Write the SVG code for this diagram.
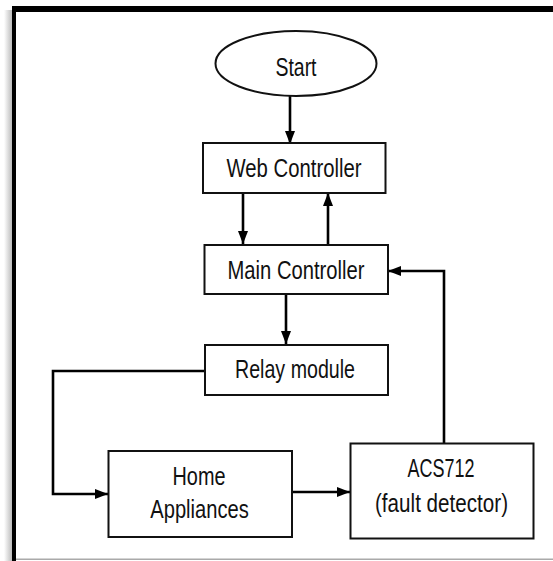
<svg xmlns="http://www.w3.org/2000/svg" width="553" height="561" viewBox="0 0 553 561">
<defs>
<style>
.box{fill:#fff;stroke:#111;stroke-width:2}
.lbl{font-family:"Liberation Sans",Arial,sans-serif;font-size:25.5px;fill:#111;text-anchor:middle}
.ln{fill:none;stroke:#000;stroke-width:2.6;stroke-linejoin:miter}
</style>
<marker id="ah" markerWidth="13" markerHeight="10" refX="13" refY="5" orient="auto" markerUnits="userSpaceOnUse">
<path d="M0,0 L13,5 L0,10 z" fill="#000"/>
</marker>
<linearGradient id="sh" x1="0" y1="0" x2="1" y2="0">
<stop offset="0" stop-color="#fff"/>
<stop offset="1" stop-color="#bbb"/>
</linearGradient>
</defs>
<rect width="553" height="561" fill="#fff"/>
<g id="frame">
<rect x="4" y="10" width="8" height="551" fill="url(#sh)"/>
<rect x="16" y="558.5" width="537" height="1.5" fill="#aaa"/>
<rect x="12" y="6" width="541" height="6" fill="#000"/>
<rect x="12" y="6" width="4" height="555" fill="#000"/>
</g>
<g id="connectors">
<path class="ln" d="M290,96 L290,144" marker-end="url(#ah)"/>
<path class="ln" d="M243,193 L243,244" marker-end="url(#ah)"/>
<path class="ln" d="M328,245 L328,193" marker-end="url(#ah)"/>
<path class="ln" d="M286,294 L286,344" marker-end="url(#ah)"/>
<path class="ln" d="M205,371 L53,371 L53,494 L108,494" marker-end="url(#ah)"/>
<path class="ln" d="M292,492 L350,492" marker-end="url(#ah)"/>
<path class="ln" d="M444,443 L444,271 L388,271" marker-end="url(#ah)"/>
</g>
<g id="start">
<ellipse class="box" cx="296" cy="63.5" rx="80.5" ry="32.5"/>
<text class="lbl" x="296" y="76" textLength="41" lengthAdjust="spacingAndGlyphs">Start</text>
</g>
<g id="web-controller">
<rect class="box" x="203" y="143" width="182.5" height="50"/>
<text class="lbl" x="294" y="177" textLength="135" lengthAdjust="spacingAndGlyphs">Web Controller</text>
</g>
<g id="main-controller">
<rect class="box" x="204.5" y="245" width="183.5" height="49"/>
<text class="lbl" x="296" y="279" textLength="137" lengthAdjust="spacingAndGlyphs">Main Controller</text>
</g>
<g id="relay-module">
<rect class="box" x="205" y="345" width="183" height="50"/>
<text class="lbl" x="295" y="378" textLength="120" lengthAdjust="spacingAndGlyphs">Relay module</text>
</g>
<g id="home-appliances">
<rect class="box" x="108.5" y="451" width="183.5" height="86"/>
<text class="lbl" x="199" y="485" textLength="53" lengthAdjust="spacingAndGlyphs">Home</text>
<text class="lbl" x="199.5" y="518" textLength="98.5" lengthAdjust="spacingAndGlyphs">Appliances</text>
</g>
<g id="acs712">
<rect class="box" x="350.5" y="443.5" width="183" height="95"/>
<text class="lbl" x="441" y="477" textLength="67" lengthAdjust="spacingAndGlyphs">ACS712</text>
<text class="lbl" x="441.5" y="512" textLength="133" lengthAdjust="spacingAndGlyphs">(fault detector)</text>
</g>
</svg>
